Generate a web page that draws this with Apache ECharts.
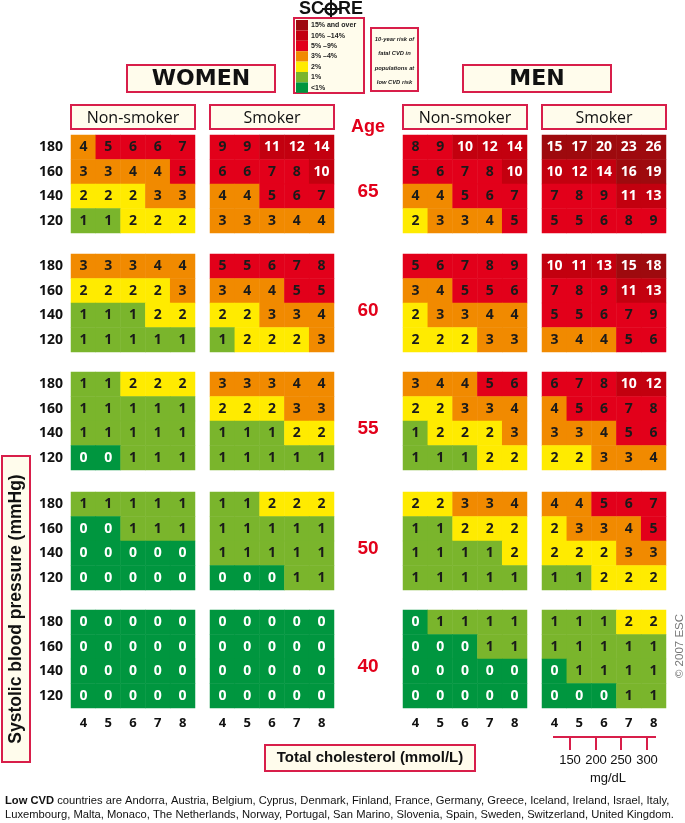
<!DOCTYPE html>
<html><head><meta charset="utf-8">
<script src="https://cdn.jsdelivr.net/npm/echarts@6/dist/echarts.min.js"></script>
<style>html,body{margin:0;padding:0;background:#fff}#c{width:685px;height:823px}</style>
</head><body><div id="c"></div>
<script>
// ---- data ----
const ages = ['65', '60', '55', '50', '40'];
const sbpLabels = ['180', '160', '140', '120'];          // top to bottom
const cholLabels = ['4', '5', '6', '7', '8'];
const mgdlLabels = ['150', '200', '250', '300'];
const groupTitles = ['Non-smoker', 'Smoker', 'Non-smoker', 'Smoker'];
const riskLabels = ['15% and over', '10% \u201314%', '5% \u20139%', '3% \u20134%', '2%', '1%', '<1%'];
const riskColors = ['#9e0a0e', '#c3000f', '#e2001a', '#f18a00', '#ffeb00', '#7ab52c', '#00963f'];
const riskBreaks = [15, 10, 5, 3, 2, 1, 0];   // lower bound of each class

// rows: SBP 180,160,140,120 ; cols: cholesterol 4..8 ; blocks: ages 65,60,55,50,40
const womenNonSmoker = [
  [[4,5,6,6,7],[3,3,4,4,5],[2,2,2,3,3],[1,1,2,2,2]],
  [[3,3,3,4,4],[2,2,2,2,3],[1,1,1,2,2],[1,1,1,1,1]],
  [[1,1,2,2,2],[1,1,1,1,1],[1,1,1,1,1],[0,0,1,1,1]],
  [[1,1,1,1,1],[0,0,1,1,1],[0,0,0,0,0],[0,0,0,0,0]],
  [[0,0,0,0,0],[0,0,0,0,0],[0,0,0,0,0],[0,0,0,0,0]]
];
const womenSmoker = [
  [[9,9,11,12,14],[6,6,7,8,10],[4,4,5,6,7],[3,3,3,4,4]],
  [[5,5,6,7,8],[3,4,4,5,5],[2,2,3,3,4],[1,2,2,2,3]],
  [[3,3,3,4,4],[2,2,2,3,3],[1,1,1,2,2],[1,1,1,1,1]],
  [[1,1,2,2,2],[1,1,1,1,1],[1,1,1,1,1],[0,0,0,1,1]],
  [[0,0,0,0,0],[0,0,0,0,0],[0,0,0,0,0],[0,0,0,0,0]]
];
const menNonSmoker = [
  [[8,9,10,12,14],[5,6,7,8,10],[4,4,5,6,7],[2,3,3,4,5]],
  [[5,6,7,8,9],[3,4,5,5,6],[2,3,3,4,4],[2,2,2,3,3]],
  [[3,4,4,5,6],[2,2,3,3,4],[1,2,2,2,3],[1,1,1,2,2]],
  [[2,2,3,3,4],[1,1,2,2,2],[1,1,1,1,2],[1,1,1,1,1]],
  [[0,1,1,1,1],[0,0,0,1,1],[0,0,0,0,0],[0,0,0,0,0]]
];
const menSmoker = [
  [[15,17,20,23,26],[10,12,14,16,19],[7,8,9,11,13],[5,5,6,8,9]],
  [[10,11,13,15,18],[7,8,9,11,13],[5,5,6,7,9],[3,4,4,5,6]],
  [[6,7,8,10,12],[4,5,6,7,8],[3,3,4,5,6],[2,2,3,3,4]],
  [[4,4,5,6,7],[2,3,3,4,5],[2,2,2,3,3],[1,1,2,2,2]],
  [[1,1,1,2,2],[1,1,1,1,1],[0,1,1,1,1],[0,0,0,1,1]]
];
const groups = [womenNonSmoker, womenSmoker, menNonSmoker, menSmoker];

// ---- layout ----
const panelLeft = [71, 210, 403, 542];
const panelTop = [135, 254, 372, 492, 610];
const PW = 124, PH = 98;
const BORDER = '#d81e4a';
const BOXFILL = '#fffcec';
const NUMFONT = '"Open Sans", "Noto Sans", sans-serif';
const ARIAL = '"Liberation Sans", Arial, sans-serif';

const grids = [], xAxes = [], yAxes = [], series = [];
const yCats = sbpLabels.slice().reverse();
let gi = 0;
groups.forEach(function (grp, g) {
  grp.forEach(function (block, a) {
    grids.push({ left: panelLeft[g], top: panelTop[a], width: PW, height: PH });
    xAxes.push({
      type: 'category', gridIndex: gi, data: cholLabels,
      axisLine: { show: false }, axisTick: { show: false }, splitLine: { show: false },
      axisLabel: { show: a === ages.length - 1, margin: 9, color: '#111', fontSize: 13, fontWeight: 'bold', fontFamily: NUMFONT }
    });
    yAxes.push({
      type: 'category', gridIndex: gi, data: yCats,
      axisLine: { show: false }, axisTick: { show: false }, splitLine: { show: false },
      axisLabel: { show: g === 0, margin: 8, color: '#111', fontSize: 14, fontWeight: 'bold', fontFamily: NUMFONT, align: 'right' }
    });
    const data = [];
    block.forEach(function (row, r) {
      row.forEach(function (v, c) {
        data.push({
          value: [c, sbpLabels.length - 1 - r, v],
          label: { color: (v === 0 || v >= 10) ? '#ffffff' : '#1a1a1a' }
        });
      });
    });
    series.push({
      type: 'heatmap', xAxisIndex: gi, yAxisIndex: gi, data: data,
      label: { show: true, fontSize: 14, fontWeight: 'bold', fontFamily: NUMFONT },
      itemStyle: { borderWidth: 0 },
      emphasis: { disabled: true }, silent: true
    });
    gi++;
  });
});

const pieces = riskBreaks.map(function (b, i) {
  const p = { gte: b, color: riskColors[i] };
  if (i > 0) p.lt = riskBreaks[i - 1];
  return p;
});

// ---- decorations ----
const graphics = [];
function box(x, y, w, h, fill) {
  graphics.push({ type: 'rect', shape: { x: x, y: y, width: w, height: h },
    style: { fill: fill || BOXFILL, stroke: BORDER, lineWidth: 2 }, silent: true });
}
function txt(x, y, s, font, color, align, rot) {
  graphics.push({ type: 'text', x: x, y: y, rotation: rot || 0, silent: true,
    style: { text: s, font: font, fill: color || '#111', textAlign: align || 'center', textVerticalAlign: 'middle' } });
}

// SCORE logo
txt(324, 9, 'SC', 'bold 18px ' + ARIAL, '#111', 'right');
graphics.push({ type: 'circle', shape: { cx: 331, cy: 9, r: 5.5 }, style: { fill: 'none', stroke: '#111', lineWidth: 2.5 }, silent: true });
graphics.push({ type: 'line', shape: { x1: 322, y1: 9, x2: 340, y2: 9 }, style: { stroke: '#111', lineWidth: 2 }, silent: true });
graphics.push({ type: 'line', shape: { x1: 331, y1: 0, x2: 331, y2: 18 }, style: { stroke: '#111', lineWidth: 2 }, silent: true });
txt(338, 9, 'RE', 'bold 18px ' + ARIAL, '#111', 'left');

// legend box
box(294, 18, 70, 75);
riskColors.forEach(function (col, i) {
  graphics.push({ type: 'rect', shape: { x: 296, y: 20 + i * 10.4, width: 12, height: 10.4 }, style: { fill: col }, silent: true });
  txt(311, 25.2 + i * 10.4, riskLabels[i], 'bold 7px ' + ARIAL, '#222', 'left');
});
// risk description box
box(371, 28, 47, 63);
['10-year risk of', 'fatal CVD in', 'populations at', 'low CVD risk'].forEach(function (s, i) {
  txt(394.5, 39 + i * 14.5, s, 'italic bold 5.8px ' + ARIAL, '#222', 'center');
});

// WOMEN / MEN
box(127, 65, 148, 27);
txt(201, 79, 'WOMEN', 'bold 22px "DejaVu Sans", ' + ARIAL, '#111');
box(463, 65, 148, 27);
txt(537, 79, 'MEN', 'bold 22px "DejaVu Sans", ' + ARIAL, '#111');

// group headers
groupTitles.forEach(function (t, g) {
  box(panelLeft[g], 105, PW, 24);
  txt(panelLeft[g] + PW / 2, 118, t, '16px ' + NUMFONT, '#111');
});

// Age labels
txt(368, 127, 'Age', 'bold 18px ' + ARIAL, '#e2001a');
ages.forEach(function (a, i) {
  txt(368, panelTop[i] + PH / 2 + 8, a, 'bold 19px ' + ARIAL, '#e2001a');
});

// y title
box(2, 456, 28, 306);
txt(16, 609, 'Systolic blood pressure (mmHg)', 'bold 17.5px ' + ARIAL, '#111', 'center', Math.PI / 2);

// copyright
txt(680, 646, '\u00a9 2007 ESC', '11.5px ' + ARIAL, '#777', 'center', Math.PI / 2);

// x title
box(265, 745, 210, 26);
txt(370, 758, 'Total cholesterol (mmol/L)', 'bold 15px ' + ARIAL, '#111');

// mg/dL scale
const mgTickX = [570, 596, 621, 647];
graphics.push({ type: 'line', shape: { x1: 553, y1: 737, x2: 656, y2: 737 }, style: { stroke: BORDER, lineWidth: 2 }, silent: true });
mgdlLabels.forEach(function (l, i) {
  graphics.push({ type: 'line', shape: { x1: mgTickX[i], y1: 737, x2: mgTickX[i], y2: 750 }, style: { stroke: BORDER, lineWidth: 2 }, silent: true });
  txt(mgTickX[i], 760, l, '13px "Liberation Sans Narrow", ' + ARIAL, '#111');
});
txt(608, 778, 'mg/dL', '13px "Liberation Sans Narrow", ' + ARIAL, '#111');

// footnote
graphics.push({ type: 'text', x: 5, y: 801, silent: true, style: {
  text: '{b|Low CVD} countries are Andorra, Austria, Belgium, Cyprus, Denmark, Finland, France, Germany, Greece, Iceland, Ireland, Israel, Italy,',
  font: '11.2px ' + ARIAL, fill: '#111', textVerticalAlign: 'middle',
  rich: { b: { fontWeight: 'bold', fontSize: 11.2, fontFamily: ARIAL, fill: '#111' } } } });
txt(5, 815, 'Luxembourg, Malta, Monaco, The Netherlands, Norway, Portugal, San Marino, Slovenia, Spain, Sweden, Switzerland, United Kingdom.', '11.2px ' + ARIAL, '#111', 'left');

const chart = echarts.init(document.getElementById('c'), null, { renderer: 'canvas' });
chart.setOption({
  animation: false,
  backgroundColor: '#ffffff',
  grid: grids, xAxis: xAxes, yAxis: yAxes,
  visualMap: {
    type: 'piecewise', show: false, dimension: 2,
    seriesIndex: series.map(function (s, i) { return i; }),
    pieces: pieces
  },
  series: series,
  graphic: graphics
});
</script></body></html>
